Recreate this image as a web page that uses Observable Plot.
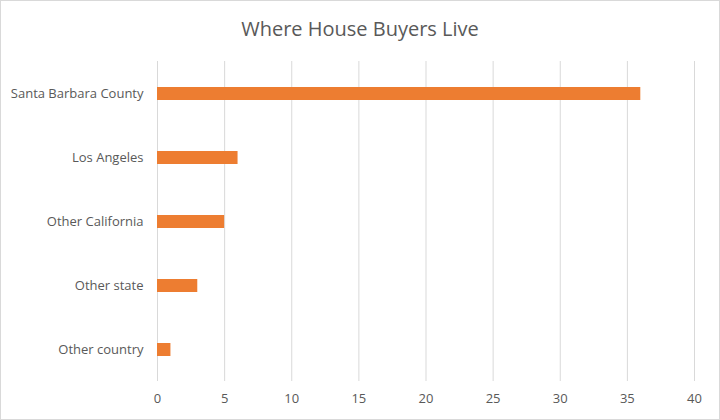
<!DOCTYPE html>
<html>
<head>
<meta charset="utf-8">
<script src="https://cdn.jsdelivr.net/npm/d3@7"></script>
<script src="https://cdn.jsdelivr.net/npm/@observablehq/plot@0.6"></script>
<style>
  html, body { margin: 0; padding: 0; background: #fff; }
  #wrap { width: 720px; height: 420px; box-sizing: border-box; border: 1px solid #d9d9d9; background: #fff; font-family: "Open Sans", "Noto Sans", sans-serif; }
  #title { height: 49px; line-height: 56px; text-align: center; font-size: 20px; color: #595959; font-weight: 400; }
</style>
</head>
<body>
<div id="wrap">
  <div id="title">Where House Buyers Live</div>
  <div id="chart"></div>
</div>
<script>
const categories = ["Santa Barbara County", "Los Angeles", "Other California", "Other state", "Other country"];
const values = [36, 6, 5, 3, 1];
const xTicks = [0, 5, 10, 15, 20, 25, 30, 35, 40];

const data = categories.map((c, i) => ({ category: c, value: values[i] }));

const chart = Plot.plot({
  width: 718,
  height: 369,
  marginLeft: 156,
  marginRight: 25,
  marginTop: 11,
  marginBottom: 38,
  style: { fontFamily: "'Open Sans', 'Noto Sans', sans-serif", fontSize: "13px", color: "#595959", background: "#fff" },
  x: { domain: [0, 40], ticks: xTicks, tickSize: 0, tickPadding: 12, label: null },
  y: { domain: categories, paddingInner: 0.8, paddingOuter: 0.4, tickSize: 0, tickPadding: 14, label: null },
  marks: [
    Plot.ruleX(xTicks, { stroke: "#d9d9d9", strokeWidth: 1 }),
    Plot.barX(data, { x: "value", y: "category", fill: "#ED7D31" }),
    Plot.axisX({ ticks: xTicks, tickSize: 0, tickPadding: 12, fill: "#595959", fontSize: 13 }),
    Plot.axisY({ tickSize: 0, tickPadding: 14, fill: "#595959", fontSize: 13 })
  ]
});
document.getElementById("chart").appendChild(chart);
</script>
</body>
</html>
